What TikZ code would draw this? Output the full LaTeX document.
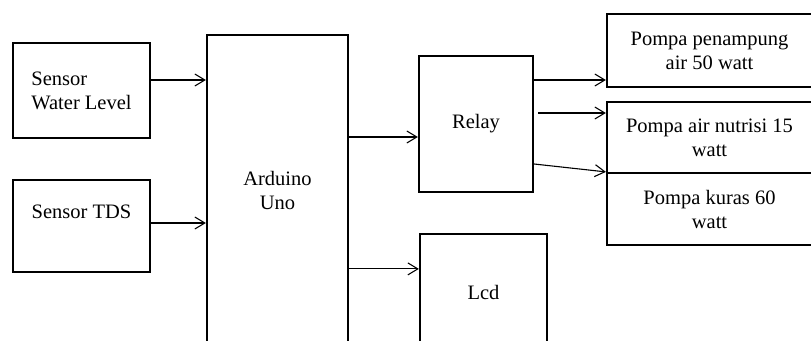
\documentclass[tikz,border=0pt]{standalone}
\usepackage{fontspec}
\setmainfont{LiberationSerif}[Extension=.ttf, UprightFont=*-Regular, BoldFont=*-Bold]
\usetikzlibrary{positioning, arrows.meta}

\begin{document}
\begin{tikzpicture}[x=1pt, y=1pt,
  blok/.style={draw, line width=2.2pt, rectangle, inner sep=0pt, align=center,
    font=\rmfamily\fontsize{20.5}{24}\selectfont},
  lbl/.style={inner sep=0pt, font=\rmfamily\fontsize{20.5}{24}\selectfont},
  arr/.style={line width=1.1pt, -{Straight Barb[length=10pt,width=12pt]}}]
\useasboundingbox (0,0) rectangle (811,-340);
\clip (0,0) rectangle (811,-340);
% sensor boxes
\node[blok, minimum width=137pt, minimum height=95pt, align=left] (wl) at (81.5,-90.5) {Sensor\\Water Level};
\node[blok, minimum width=137pt, minimum height=92pt] (tds) at (81.5,-226) {};
\node[lbl] (tdslbl) at ([yshift=14pt]tds.center) {Sensor TDS};
% controller
\node[blok, minimum width=141pt, minimum height=310pt] (uno) at (277.5,-190) {Arduino\\Uno};
% relay and lcd
\node[blok, minimum width=114pt, minimum height=136pt] (relay) at (476,-124) {Relay};
\node[blok, minimum width=127pt, minimum height=116pt] (lcd) at (483.5,-292) {Lcd};
% pumps
\node[blok, minimum width=205pt, minimum height=73pt] (pump1) at (709.5,-50.5) {Pompa penampung\\air 50 watt};
\node[blok, minimum width=205pt, minimum height=71pt] (pump2) at (709.5,-137.5) {Pompa air nutrisi 15\\watt};
\node[blok, minimum width=205pt, minimum height=72pt] (pump3) at (709.5,-209) {Pompa kuras 60\\watt};
% sensor -> arduino
\coordinate (wlout) at ([yshift=10.5pt]wl.east);
\draw[arr] (wlout) -- (wlout -| uno.west);
\coordinate (tdsout) at ([yshift=3pt]tds.east);
\draw[arr] (tdsout) -- (tdsout -| uno.west);
% arduino -> relay, lcd
\coordinate (relayin) at ([yshift=-13pt]relay.west);
\draw[arr] (uno.east |- relayin) -- (relayin);
\coordinate (lcdin) at ([yshift=-36pt]lcd.north west);
\draw[arr] (uno.east |- lcdin) -- (lcdin);
% relay -> pumps
\coordinate (p1in) at ([yshift=-29.5pt]pump1.west);
\draw[arr] (relay.east |- p1in) -- (p1in);
\coordinate (p2in) at ([yshift=24.5pt]pump2.west);
\draw[arr] (relay.east |- p2in) ++(4,0) -- (p2in);
\coordinate (relayout) at ([yshift=-40pt]relay.east);
\draw[arr] (relayout) -- (pump3.north west);
\end{tikzpicture}
\end{document}
